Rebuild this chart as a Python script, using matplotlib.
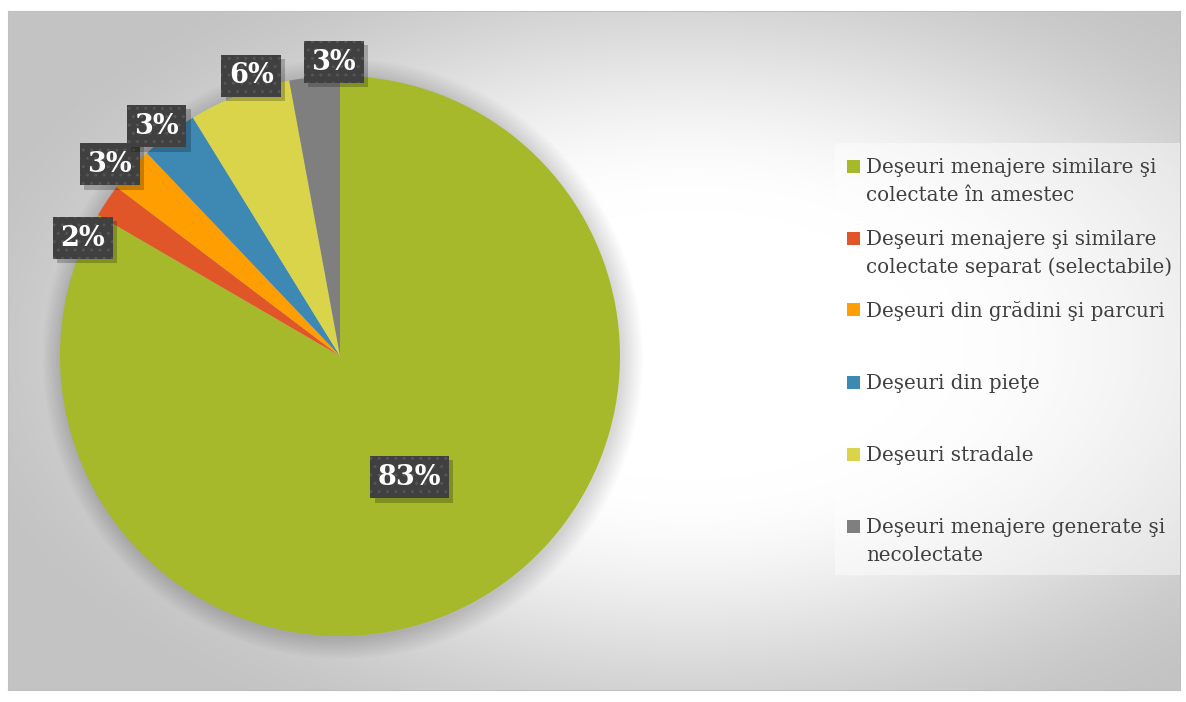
import numpy as np
import matplotlib
matplotlib.use("Agg")
import matplotlib.pyplot as plt
import matplotlib.patheffects as pe
from matplotlib.patches import Rectangle, Circle

# data (share of waste, %)
categories = [
    "Deşeuri menajere similare şi\ncolectate în amestec",
    "Deşeuri menajere şi similare\ncolectate separat (selectabile)",
    "Deşeuri din grădini şi parcuri",
    "Deşeuri din pieţe",
    "Deşeuri stradale",
    "Deşeuri menajere generate şi\nnecolectate",
]
values = [83.4, 1.9, 2.6, 3.3, 5.9, 2.9]
colors = ["#a5b92a", "#e05628", "#ff9e00", "#3e88b4", "#d9d44a", "#7f7f80"]

# label placement tweaks (degrees added to mid angle, radius factor)
label_shift = [0, 9, 2, 1, -3.5, -4]
label_radius = [0.5, 1.01, 1.07, 1.05, 1.05, 1.05]


class BoxShadow(pe.AbstractPathEffect):
    """plain drop shadow (no hatch) under the label boxes"""
    def __init__(self, offset=(3, -3), alpha=0.2):
        super().__init__(offset)
        self.alpha = alpha

    def draw_path(self, renderer, gc, tpath, affine, rgbFace=None):
        gc0 = renderer.new_gc()
        gc0.copy_properties(gc)
        gc0.set_hatch(None)
        gc0.set_linewidth(0)
        gc0.set_alpha(self.alpha)
        renderer.draw_path(gc0, tpath, affine + self._offset_transform(renderer), (0, 0, 0))
        gc0.restore()


W, H = 1186, 702
fig = plt.figure(figsize=(W / 100, H / 100), dpi=100)
fig.patch.set_facecolor("white")

# ---- chart area background (radial gradient, white in the middle, grey corners)
x0, y0, x1, y1 = 8, 11, 1180, 690
bg = fig.add_axes([x0 / W, 1 - y1 / H, (x1 - x0) / W, (y1 - y0) / H])
xx, yy = np.meshgrid(np.arange(x0, x1), np.arange(y0, y1))
d = np.sqrt(((xx - 690) / 586.0) ** 2 + ((yy - 345) / 340.0) ** 2) / np.sqrt(2)
t = np.clip((d - 0.28) / 0.66, 0, 1)
t = t * t * (3 - 2 * t)
v = (255 - 60 * t) / 255.0
bg.imshow(np.dstack([v, v, v]), aspect="auto", extent=[0, 1, 0, 1], origin="upper")
bg.set_xticks([])
bg.set_yticks([])
for s in bg.spines.values():
    s.set_color("#c0c0c0")
    s.set_linewidth(0.8)

# ---- pie
cx, cy, r = 340, 356, 280
ax = fig.add_axes([(cx - r) / W, (H - cy - r) / H, 2 * r / W, 2 * r / H])

# soft shadow around the pie
for k in range(13):
    ax.add_patch(Circle((0.01, -0.01), 1 + 0.006 * k, color="black",
                        alpha=0.012, lw=0, zorder=0, clip_on=False))

wedges, _ = ax.pie(values, colors=colors, startangle=90, counterclock=False,
                   radius=1, wedgeprops=dict(linewidth=0))
ax.set_xlim(-1, 1)
ax.set_ylim(-1, 1)
ax.set_aspect("equal")
ax.axis("off")
for w in wedges:
    w.set_zorder(2)

for i, w in enumerate(wedges):
    mid = np.deg2rad((w.theta1 + w.theta2) / 2 + label_shift[i])
    rr = label_radius[i]
    txt = ax.text(rr * np.cos(mid), rr * np.sin(mid), f"{values[i]:.0f}%",
                  ha="center", va="center", color="white", fontsize=19.5,
                  fontweight="bold", family="DejaVu Serif", zorder=5,
                  bbox=dict(boxstyle="square,pad=0.28", facecolor="#404040",
                            edgecolor="#555555", linewidth=0))
    bp = txt.get_bbox_patch()
    bp.set_hatch("..")
    bp.set_path_effects([BoxShadow(offset=(3, -3), alpha=0.22), pe.Normal()])

# ---- legend (drawn by hand to match Excel layout)
lx0, ly0, lx1, ly1 = 835, 143, 1180, 575
fig.patches.append(Rectangle((lx0 / W, 1 - ly1 / H), (lx1 - lx0) / W, (ly1 - ly0) / H,
                             transform=fig.transFigure, facecolor="white", alpha=0.45,
                             edgecolor="none", zorder=1))
for i, lab in enumerate(categories):
    base = 173 + 72 * i
    fig.patches.append(Rectangle((847 / W, 1 - 172.5 / H - 72 * i / H), 13 / W, 13 / H,
                                 transform=fig.transFigure, facecolor=colors[i],
                                 edgecolor="none", zorder=3))
    for j, line in enumerate(lab.split("\n")):
        fig.text(866 / W, 1 - (base + 28 * j) / H, line, ha="left", va="baseline",
                 fontsize=14.3, color="#404040", family="DejaVu Serif", zorder=4)

plt.savefig("out.png", dpi=100)
